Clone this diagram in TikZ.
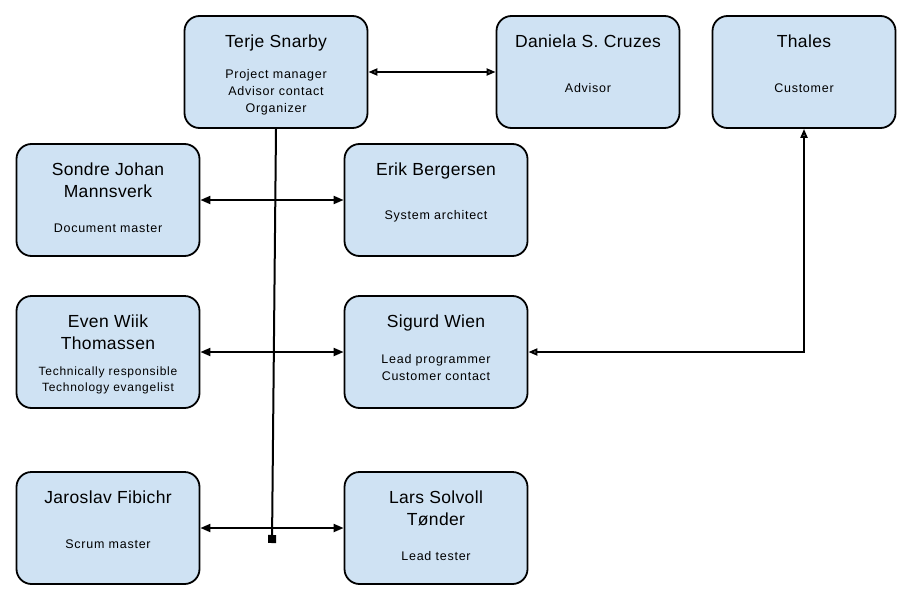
\documentclass[tikz,border=0pt]{standalone}
\usepackage{fontspec}
\setmainfont{Liberation Sans}
\newfontfamily\namefamily[LetterSpace=2]{Liberation Sans}
\newfontfamily\rolefamily[LetterSpace=6]{Liberation Sans}
\usetikzlibrary{positioning, arrows.meta}
\definecolor{boxBlue}{HTML}{CFE2F3}
\tikzset{
  person/.style={draw, fill=boxBlue, line width=1.8pt, rounded corners=15pt, minimum width=183pt, minimum height=112pt},
  pname/.style={font={\namefamily\fontsize{17.5}{22}\selectfont}, align=center, inner sep=0pt, below=20pt},
  prole/.style={font={\rolefamily\fontsize{12.5}{17}\selectfont}, align=center, inner sep=0pt},
  link/.style={line width=2pt, {Triangle[length=10pt,width=8pt]}-{Triangle[length=10pt,width=8pt]}},
  openlink/.style={line width=2pt, {Triangle[open,length=9pt,width=7pt,fill=white]}-{Triangle[open,length=9pt,width=7pt,fill=white]}}
}

\begin{document}
\begin{tikzpicture}[x=1pt, y=-1pt]
\useasboundingbox (0,0) rectangle (910,597);

% top row
\node (terje) [person] at (276,72) {};
\node (terjeName) [pname] at (terje.north) {Terje Snarby};
\node (terjeRole) [prole] at ([yshift=-20pt]terje.center) {Project manager\\Advisor contact\\Organizer};

\node (daniela) [person] at (588,72) {};
\node (danielaName) [pname] at (daniela.north) {Daniela S. Cruzes};
\node (danielaRole) [prole] at ([yshift=-16pt]daniela.center) {Advisor};

\node (thales) [person] at (804,72) {};
\node (thalesName) [pname] at (thales.north) {Thales};
\node (thalesRole) [prole] at ([yshift=-16pt]thales.center) {Customer};

% team
\node (sondre) [person] at (108,200) {};
\node (sondreName) [pname] at (sondre.north) {Sondre Johan\\Mannsverk};
\node (sondreRole) [prole] at ([yshift=-28pt]sondre.center) {Document master};

\node (erik) [person] at (436,200) {};
\node (erikName) [pname] at (erik.north) {Erik Bergersen};
\node (erikRole) [prole] at ([yshift=-16pt]erik.center) {System architect};

\node (even) [person] at (108,352) {};
\node (evenName) [pname] at (even.north) {Even Wiik\\Thomassen};
\node (evenRole) [prole, font={\rolefamily\fontsize{12}{16}\selectfont}] at ([yshift=-28pt]even.center) {Technically responsible\\Technology evangelist};

\node (sigurd) [person] at (436,352) {};
\node (sigurdName) [pname] at (sigurd.north) {Sigurd Wien};
\node (sigurdRole) [prole] at ([yshift=-15.5pt]sigurd.center) {Lead programmer\\Customer contact};

\node (jaroslav) [person] at (108,528) {};
\node (jaroslavName) [pname] at (jaroslav.north) {Jaroslav Fibichr};
\node (jaroslavRole) [prole] at ([yshift=-16pt]jaroslav.center) {Scrum master};

\node (lars) [person] at (436,528) {};
\node (larsName) [pname] at (lars.north) {Lars Solvoll\\Tønder};
\node (larsRole) [prole] at ([yshift=-28pt]lars.center) {Lead tester};

% connectors
\draw[openlink] (terje) -- (daniela);
\draw[link] (sondre) -- (erik);
\draw[link] (even) -- (sigurd);
\draw[link] (jaroslav) -- (lars);
\draw[openlink] (thales.south) |- (sigurd.east);

\coordinate (teamEnd) at (272,543);
\draw[line width=2pt, -{Square[length=8pt,width=8pt]}] (terje.south) -- (teamEnd);
\end{tikzpicture}
\end{document}
